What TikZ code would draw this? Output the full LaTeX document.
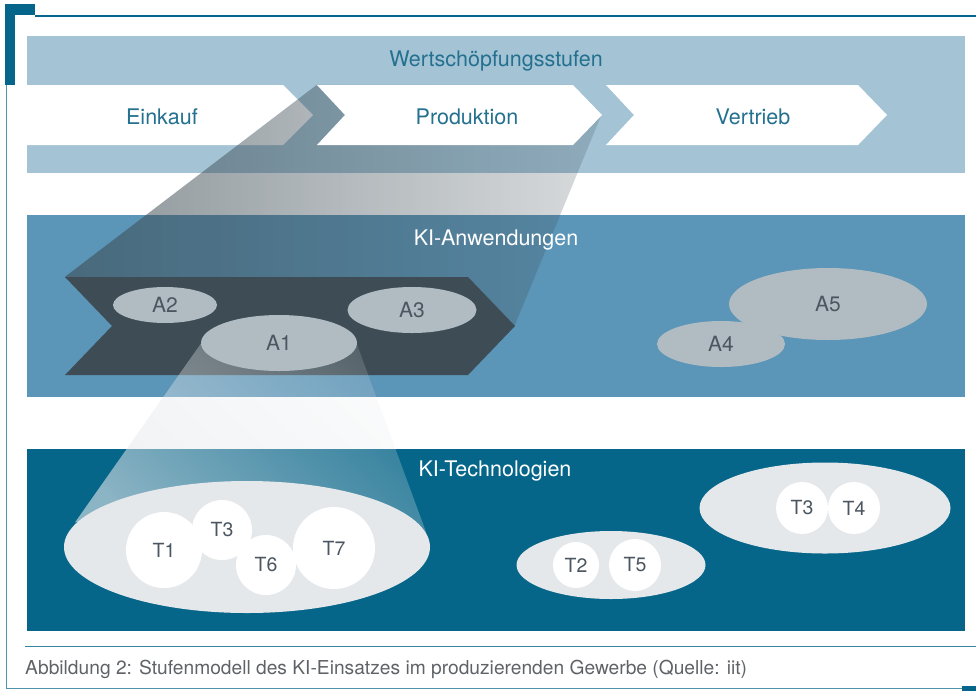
\documentclass[tikz,border=0pt]{standalone}
\usepackage{fontspec}
\setmainfont{TeX Gyre Heros}
\usetikzlibrary{shapes.geometric,fadings}

\definecolor{frameteal}{HTML}{05658A}
\definecolor{bandlight}{HTML}{A4C4D6}
\definecolor{bandmid}{HTML}{5B95B7}
\definecolor{banddark}{HTML}{06668A}
\definecolor{chevdark}{HTML}{3E4D55}
\definecolor{applgray}{HTML}{B0BBC2}
\definecolor{techgray}{HTML}{E4E8EB}
\definecolor{tealtext}{HTML}{23708F}
\definecolor{labeltext}{HTML}{4B5660}
\definecolor{captext}{HTML}{5F6368}

\tikzfading[name=fadeprod, left color=transparent!40, right color=transparent!80]
\tikzfading[name=fadeappl, left color=transparent!40, right color=transparent!85]

\begin{document}
\begin{tikzpicture}[x=1pt,y=-1pt,
  stage/.style={text=tealtext,font=\fontsize{21.5}{25}\selectfont},
  layer/.style={font=\fontsize{21.5}{25}\selectfont},
  appl/.style={ellipse,fill=applgray,text=labeltext,inner sep=0pt,font=\fontsize{21}{25}\selectfont},
  field/.style={ellipse,fill=techgray,inner sep=0pt},
  tech/.style={circle,fill=white,text=labeltext,inner sep=0pt,font=\fontsize{19.5}{23}\selectfont}]
\useasboundingbox (0,0) rectangle (976,691);

% frame
\fill[frameteal] (5,4) rectangle (35,15);
\fill[frameteal] (5,4) rectangle (15,85);
\draw[frameteal,line width=1.5pt] (35,16) -- (976,16);
\draw[frameteal!70,line width=1pt] (6,85) -- (6,688) -- (962,688);
\fill[frameteal] (962,686) rectangle (976,691);

% bands
\fill[bandlight] (27,36) rectangle (965,173);
\fill[bandmid] (27,215) rectangle (965,397);
\fill[banddark] (27,449) rectangle (965,631);

% value chain
\fill[white] (27,85) -- (283,85) -- (313,115) -- (283,145) -- (27,145) -- cycle;
\fill[white] (606,85) -- (858,85) -- (887,115) -- (858,145) -- (606,145) -- (634,115) -- cycle;
\fill[chevdark,path fading=fadeprod] (317,85) -- (573,85) -- (602,115) -- (515,326) -- (468,277) -- (65,277) -- cycle;
\fill[white] (317,85) -- (573,85) -- (602,115) -- (573,145) -- (317,145) -- (345,115) -- cycle;

\node[stage] (wert) at (496,61) {Wertschöpfungsstufen};
\node[stage] (einkauf) at (162,117) {Einkauf};
\node[stage] (prod) at (467,117) {Produktion};
\node[stage] (vertrieb) at (753,117) {Vertrieb};

% applications
\node[layer,text=white] (anw) at (496,240) {KI-Anwendungen};
\fill[chevdark] (65,277) -- (468,277) -- (515,326) -- (468,375) -- (65,375) -- (112,326) -- cycle;
\fill[techgray,path fading=fadeappl,fading angle=30] (201,343) -- (357,343) -- (427,533) -- (75,522) -- cycle;

\node[appl,minimum width=104pt,minimum height=36pt] (a2) at (165,305) {A2};
\node[appl,minimum width=129pt,minimum height=46pt] (a3) at (412,310) {A3};
\node[appl,minimum width=156pt,minimum height=56pt] (a1) at (279,343) {A1};
\node[appl,minimum width=198pt,minimum height=72pt] (a5) at (828,304) {A5};
\node[appl,minimum width=128pt,minimum height=46pt] (a4) at (721,344) {A4};

% technologies
\node[layer,text=white] (tech) at (495,471) {KI-Technologien};
\node[field,minimum width=366pt,minimum height=132pt] (f1) at (247,547) {};
\node[field,minimum width=189pt,minimum height=68pt] (f2) at (611,565) {};
\node[field,minimum width=251pt,minimum height=91pt] (f3) at (825,508) {};

\foreach \n/\x/\y/\d/\t in {t1/164/550/76/T1, t3/222/530/60/T3, t6/266/565/60/T6, t7/334/548/82/T7,
  t2/576/565/46/T2, t5/635/565/52/T5, t3b/802/508/52/T3, t4/854/508/52/T4}
  \node[tech,minimum size=\d pt] (\n) at (\x,\y) {\t};

% caption
\draw[frameteal!80,line width=1pt] (25,646) -- (976,646);
\node[anchor=west,text=captext,font=\fontsize{19.2}{23}\selectfont,inner sep=0pt] (cap) at (25,669)
  {Abbildung 2: Stufenmodell des KI-Einsatzes im produzierenden Gewerbe (Quelle: iit)};
\end{tikzpicture}
\end{document}
